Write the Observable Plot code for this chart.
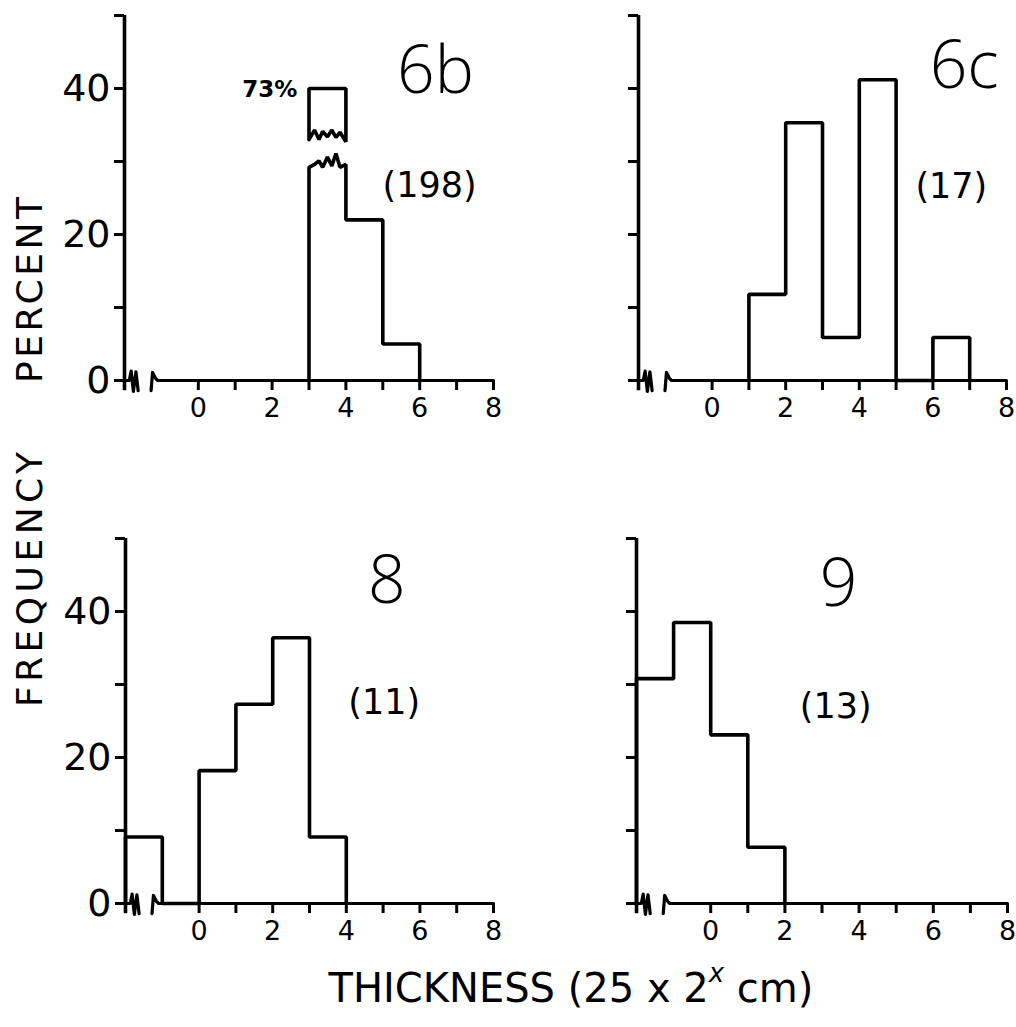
<!DOCTYPE html>
<html>
<head>
<meta charset="utf-8">
<script src="https://cdn.jsdelivr.net/npm/d3@7"></script>
<script src="https://cdn.jsdelivr.net/npm/@observablehq/plot@0.6"></script>
<style>
  html, body { margin: 0; padding: 0; background: #fff; }
  #fig { position: relative; width: 1016px; height: 1027px; background: #fff; overflow: hidden; }
  #fig svg { position: absolute; overflow: visible; }
</style>
</head>
<body>
<div id="fig"></div>
<script>
// ---------------- data ----------------
const xDomain = [-2, 8];
const yDomain = [0, 50];
const xTickValues = [0, 1, 2, 3, 4, 5, 6, 7, 8];
const xLabelValues = [0, 2, 4, 6, 8];
const yTickValues = [0, 10, 20, 30, 40, 50];
const yLabelValues = [0, 20, 40];
const binWidth = 1;

const panelNames = ["6b", "6c", "8", "9"];
const panelCounts = [198, 17, 11, 13];

const bins6b = [3, 4, 5];
const pct6b = [73, 22, 5];
const bins6c = [1, 2, 3, 4, 6];
const pct6c = [11.8, 35.3, 5.9, 41.2, 5.9];
const bins8 = [-2, 0, 1, 2, 3];
const pct8 = [9.1, 18.2, 27.3, 36.4, 9.1];
const bins9 = [-2, -1, 0, 1];
const pct9 = [30.8, 38.5, 23.1, 7.7];

// broken (off-scale) bar drawing parameters
const breakLow = 29.2, breakHigh = 33.0, breakTop = 40;
const teethX = [0, 0.15, 0.27, 0.37, 0.5, 0.62, 0.73, 0.84, 1];
const teethLow = [0, 0.4, 0.9, 0, 1.4, 0.2, 1.9, 0, 0.4];
const teethHigh = [0, 1.3, 0, 1.1, 0.4, 1.3, 0.3, 1.0, -0.3];

// x-axis break glyph (decoration)
const axisBreakLeft = [[-2, 0], [-1.87, 0], [-1.82, 1.3], [-1.76, -1.5], [-1.69, 1.2], [-1.63, -1.4]];
const axisBreakRight = [[-1.28, -1.4], [-1.24, 1.1], [-1.16, 0.3], [-1.1, 0], [8, 0]];

// ---------------- layout ----------------
const frames = [
  {left: 0,   top: 0,   ml: 124, mr: 15, labels: true,  bins: bins6b, vals: pct6b, name: [6.43, 42.3], count: [6.27, 26.7]},
  {left: 508, top: 0,   ml: 130, mr: 10, labels: false, bins: bins6c, vals: pct6c, name: [6.85, 42.9], count: [6.5, 26.6]},
  {left: 0,   top: 523, ml: 125, mr: 15, labels: true,  bins: bins8,  vals: pct8,  name: [5.1, 44.1],  count: [5.03, 27.5]},
  {left: 508, top: 523, ml: 128, mr: 9,  labels: false, bins: bins9,  vals: pct9,  name: [3.45, 43.6], count: [3.37, 27.0]}
];

function skyline(starts, values) {
  const pts = [];
  starts.forEach((x0, i) => {
    const x1 = x0 + binWidth;
    const prevEnd = i > 0 ? starts[i - 1] + binWidth : null;
    if (prevEnd !== x0) {
      if (prevEnd !== null) pts.push({x: prevEnd, y: 0});
      pts.push({x: x0, y: 0});
    }
    if (values[i] > yDomain[1]) {
      teethX.forEach((f, j) => pts.push({x: x0 + f * binWidth, y: breakLow + teethLow[j]}));
    } else {
      pts.push({x: x0, y: values[i]}, {x: x1, y: values[i]});
    }
  });
  pts.push({x: starts[starts.length - 1] + binWidth, y: 0});
  return pts;
}

function brokenTop(starts, values) {
  const i = values.findIndex(v => v > yDomain[1]);
  if (i < 0) return null;
  const x0 = starts[i], x1 = x0 + binWidth;
  const pts = [{x: x0, y: breakHigh + teethHigh[0]}, {x: x0, y: breakTop}, {x: x1, y: breakTop}];
  for (let j = teethX.length - 1; j >= 0; j--) pts.push({x: x0 + teethX[j] * binWidth, y: breakHigh + teethHigh[j]});
  return {pts, x0, value: values[i]};
}

const fig = document.getElementById("fig");
const FONT = "'DejaVu Sans', 'Open Sans', sans-serif";
const LW = 3.6;

frames.forEach((f, k) => {
  const sky = skyline(f.bins, f.vals);
  const broken = brokenTop(f.bins, f.vals);
  const marks = [
    Plot.ruleX([xDomain[0]], {y1: -1.4, y2: yDomain[1], stroke: "black", strokeWidth: LW}),
    Plot.line(axisBreakLeft, {x: d => d[0], y: d => d[1], stroke: "black", strokeWidth: 3.2}),
    Plot.line(axisBreakRight, {x: d => d[0], y: d => d[1], stroke: "black", strokeWidth: 3.2}),
    Plot.axisY(yTickValues, {
      tickSize: 10, tickPadding: 4, strokeWidth: 3, label: null,
      tickFormat: f.labels ? (d => yLabelValues.includes(d) ? String(d) : "") : (() => ""),
      fontSize: 38
    }),
    Plot.axisX(xTickValues, {
      tickSize: 10, tickPadding: 7, strokeWidth: 3, label: null,
      tickFormat: d => xLabelValues.includes(d) ? String(d) : "",
      fontSize: 27
    }),
    Plot.line(sky, {x: "x", y: "y", stroke: "black", strokeWidth: LW, strokeLinejoin: "miter"}),
    Plot.text([panelNames[k]], {x: f.name[0], y: f.name[1], text: d => d, fontSize: 66, fontWeight: 300, fontFamily: "'Open Sans', 'DejaVu Sans', sans-serif"}),
    Plot.text([panelCounts[k]], {x: f.count[0], y: f.count[1], text: d => `(${d})`, fontSize: 35, fontWeight: 400})
  ];
  if (broken) {
    marks.push(Plot.line(broken.pts, {x: "x", y: "y", stroke: "black", strokeWidth: LW, strokeLinejoin: "miter"}));
    marks.push(Plot.text([broken.value], {x: broken.x0 - 0.32, y: breakTop - 0.1, text: d => `${d}%`, textAnchor: "end", fontSize: 23, fontWeight: "bold"}));
  }
  const svg = Plot.plot({
    width: 508,
    height: 440,
    marginLeft: f.ml,
    marginRight: f.mr,
    marginTop: 15,
    marginBottom: 60,
    x: {domain: xDomain},
    y: {domain: yDomain},
    style: {fontFamily: FONT, background: "transparent", overflow: "visible", color: "black"},
    marks
  });
  svg.style.left = f.left + "px";
  svg.style.top = f.top + "px";
  fig.appendChild(svg);
});

// ---------------- axis titles ----------------
const yTitleWords = ["PERCENT", "FREQUENCY"];
const xTitle = "THICKNESS (25 x 2";
const xTitleSup = "x";
const xTitleEnd = " cm)";

const ov = d3.create("svg")
  .attr("width", 1016).attr("height", 1027)
  .style("left", "0px").style("top", "0px")
  .style("font-family", FONT);

ov.append("text")
  .attr("transform", "translate(42,290) rotate(-90)")
  .attr("text-anchor", "middle")
  .attr("font-size", 36)
  .attr("textLength", 186).attr("lengthAdjust", "spacing")
  .text(yTitleWords[0]);

ov.append("text")
  .attr("transform", "translate(42,707) rotate(-90)")
  .attr("text-anchor", "start")
  .attr("font-size", 36)
  .attr("textLength", 255).attr("lengthAdjust", "spacing")
  .text(yTitleWords[1]);

const t = ov.append("text")
  .attr("x", 571).attr("y", 1002)
  .attr("text-anchor", "middle")
  .attr("font-size", 40);
t.append("tspan").text(xTitle);
t.append("tspan").attr("dy", -20).attr("font-size", 26).attr("font-style", "italic").text(xTitleSup);
t.append("tspan").attr("dy", 20).text(xTitleEnd);

fig.appendChild(ov.node());
</script>
</body>
</html>
